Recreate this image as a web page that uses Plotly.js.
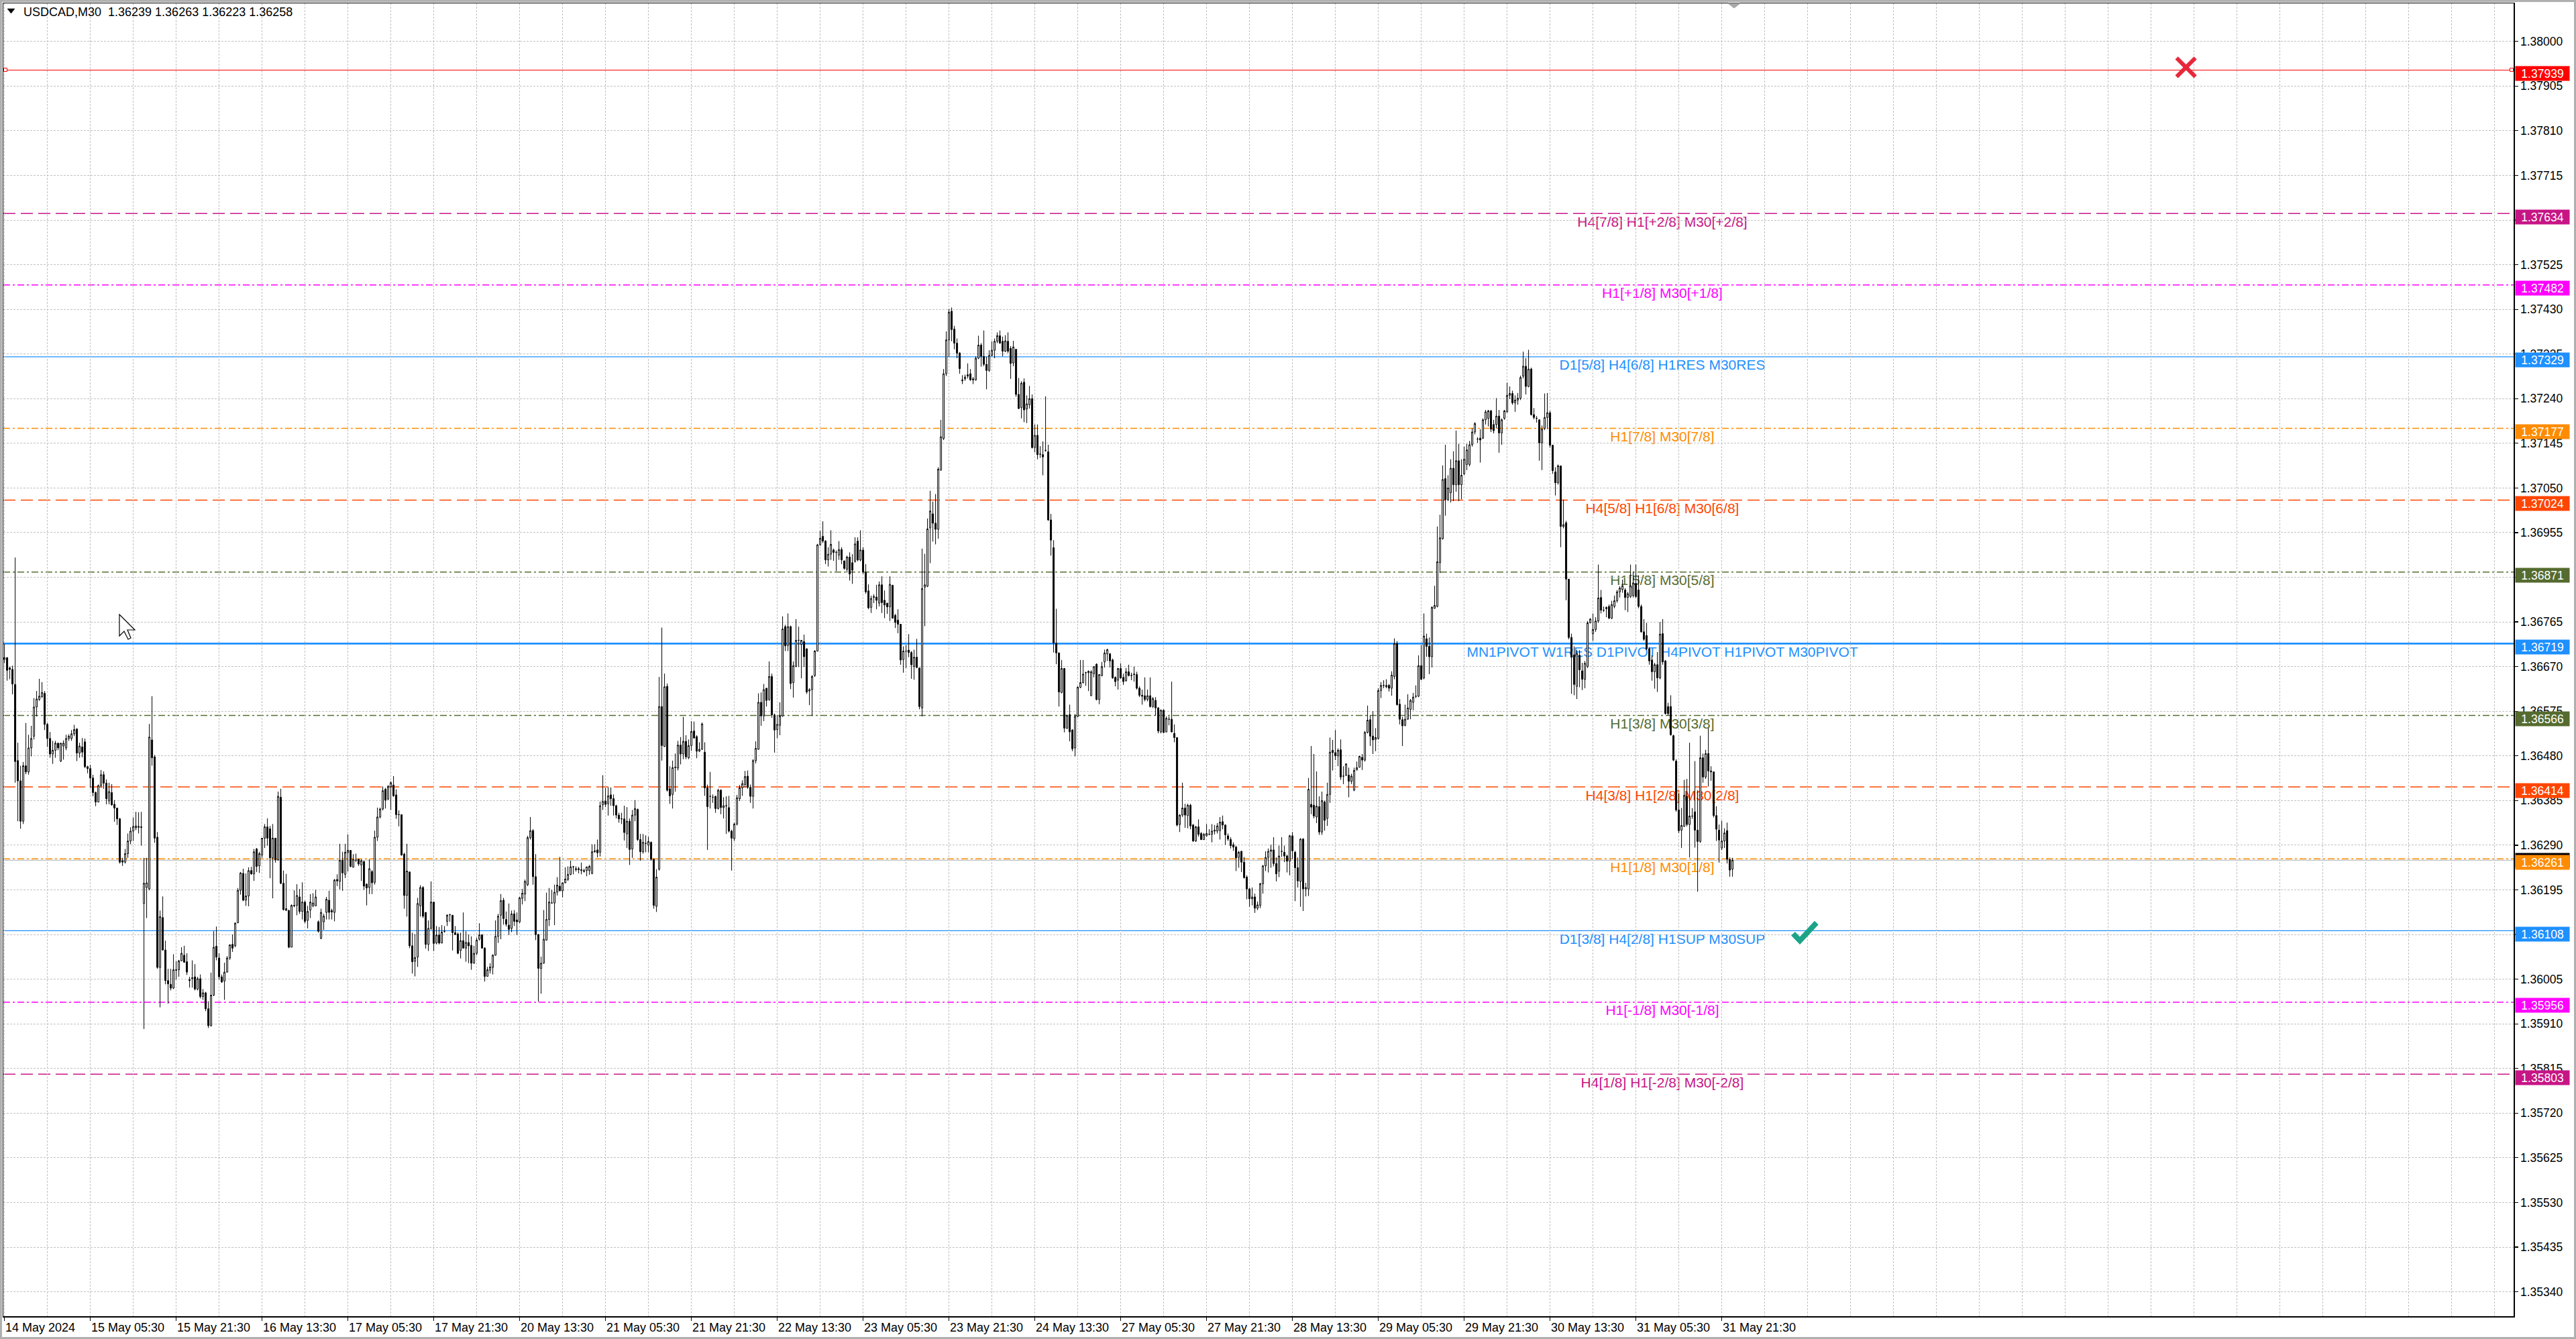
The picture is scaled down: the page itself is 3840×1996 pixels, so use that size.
<!DOCTYPE html>
<html>
<head>
<meta charset="utf-8">
<script src="https://cdn.plot.ly/plotly-3.0.1.min.js"></script>
<style>html,body{margin:0;padding:0;background:#fff;}#chart{width:3840px;height:1996px;}</style>
</head>
<body>
<div id="chart"></div>
<script>
// ---------------- DATA (USDCAD M30) ----------------
const openPrices = [
1.36685,1.36689,1.36667,1.36664,1.36632,1.36470,1.36427,1.36341,1.36459,1.36446,
1.36497,1.36522,1.36584,1.36600,1.36606,1.36613,1.36547,1.36517,1.36484,1.36492,
1.36507,1.36469,1.36501,1.36497,1.36517,1.36517,1.36527,1.36537,1.36486,1.36499,
1.36510,1.36457,1.36453,1.36433,1.36402,1.36382,1.36417,1.36440,1.36422,1.36384,
1.36402,1.36377,1.36369,1.36346,1.36257,1.36254,1.36272,1.36299,1.36320,1.36327,
1.36328,1.36329,1.36166,1.36200,1.36197,1.36514,1.36478,1.36307,1.36030,1.36136,
1.36067,1.36002,1.35994,1.35986,1.36025,1.36025,1.36044,1.36056,1.36042,1.36004,
1.36006,1.36010,1.35984,1.36006,1.35968,1.35976,1.35942,1.35906,1.35971,1.36075,
1.36050,1.36010,1.36001,1.36020,1.36050,1.36079,1.36076,1.36125,1.36194,1.36230,
1.36173,1.36182,1.36236,1.36229,1.36282,1.36246,1.36269,1.36305,1.36329,1.36325,
1.36263,1.36305,1.36259,1.36392,1.36209,1.36151,1.36151,1.36073,1.36162,1.36162,
1.36180,1.36149,1.36169,1.36130,1.36152,1.36161,1.36161,1.36127,1.36092,1.36127,
1.36147,1.36173,1.36151,1.36147,1.36217,1.36213,1.36258,1.36228,1.36274,1.36279,
1.36243,1.36258,1.36260,1.36248,1.36255,1.36207,1.36200,1.36234,1.36211,1.36307,
1.36350,1.36367,1.36409,1.36388,1.36414,1.36418,1.36397,1.36355,1.36355,1.36271,
1.36183,1.36233,1.36076,1.36043,1.36052,1.36161,1.36200,1.36147,1.36079,1.36113,
1.36169,1.36082,1.36099,1.36082,1.36107,1.36128,1.36142,1.36141,1.36104,1.36101,
1.36066,1.36087,1.36071,1.36083,1.36077,1.36039,1.36060,1.36090,1.36099,1.36071,
1.36011,1.36024,1.36030,1.36056,1.36096,1.36141,1.36173,1.36132,1.36120,1.36113,
1.36144,1.36131,1.36127,1.36177,1.36186,1.36206,1.36306,1.36321,1.36223,1.36100,
1.36028,1.36039,1.36088,1.36132,1.36167,1.36167,1.36190,1.36203,1.36193,1.36210,
1.36217,1.36228,1.36244,1.36238,1.36240,1.36236,1.36234,1.36236,1.36236,1.36230,
1.36276,1.36280,1.36275,1.36376,1.36384,1.36378,1.36397,1.36389,1.36374,1.36354,
1.36346,1.36346,1.36314,1.36341,1.36282,1.36354,1.36366,1.36302,1.36276,1.36294,
1.36290,1.36296,1.36260,1.36160,1.36239,1.36585,1.36500,1.36628,1.36410,1.36398,
1.36455,1.36454,1.36503,1.36484,1.36511,1.36476,1.36502,1.36533,1.36521,1.36490,
1.36494,1.36488,1.36412,1.36394,1.36392,1.36394,1.36368,1.36407,1.36370,1.36374,
1.36370,1.36320,1.36304,1.36335,1.36389,1.36412,1.36419,1.36437,1.36413,1.36394,
1.36470,1.36494,1.36594,1.36565,1.36624,1.36600,1.36649,1.36567,1.36536,1.36545,
1.36565,1.36755,1.36715,1.36755,1.36636,1.36670,1.36726,1.36717,1.36723,1.36708,
1.36618,1.36621,1.36651,1.36703,1.36929,1.36947,1.36937,1.36897,1.36909,1.36918,
1.36913,1.36907,1.36919,1.36895,1.36877,1.36903,1.36891,1.36894,1.36937,1.36897,
1.36918,1.36870,1.36831,1.36796,1.36817,1.36818,1.36805,1.36844,1.36811,1.36805,
1.36797,1.36843,1.36779,1.36769,1.36760,1.36685,1.36703,1.36705,1.36700,1.36670,
1.36690,1.36667,1.36582,1.36839,1.36841,1.36965,1.36995,1.36975,1.36962,1.37088,
1.37155,1.37293,1.37365,1.37426,1.37388,1.37358,1.37337,1.37278,1.37282,1.37288,
1.37293,1.37282,1.37280,1.37326,1.37354,1.37330,1.37313,1.37300,1.37332,1.37343,
1.37362,1.37374,1.37362,1.37341,1.37362,1.37347,1.37316,1.37345,1.37249,1.37221,
1.37275,1.37218,1.37227,1.37240,1.37136,1.37162,1.37122,1.37121,1.37130,1.37127,
1.36982,1.36923,1.36720,1.36699,1.36615,1.36666,1.36539,1.36568,1.36535,1.36497,
1.36564,1.36626,1.36636,1.36657,1.36657,1.36608,1.36655,1.36675,1.36600,1.36651,
1.36680,1.36697,1.36697,1.36684,1.36647,1.36641,1.36666,1.36647,1.36640,1.36659,
1.36651,1.36654,1.36653,1.36624,1.36609,1.36608,1.36600,1.36608,1.36585,1.36598,
1.36582,1.36531,1.36577,1.36531,1.36558,1.36558,1.36528,1.36519,1.36334,1.36354,
1.36369,1.36353,1.36375,1.36333,1.36299,1.36329,1.36315,1.36302,1.36310,1.36313,
1.36313,1.36320,1.36320,1.36321,1.36340,1.36333,1.36310,1.36302,1.36291,1.36286,
1.36264,1.36277,1.36254,1.36222,1.36197,1.36176,1.36180,1.36156,1.36162,1.36208,
1.36246,1.36264,1.36277,1.36280,1.36251,1.36235,1.36277,1.36275,1.36267,1.36256,
1.36310,1.36275,1.36242,1.36213,1.36303,1.36197,1.36197,1.36377,1.36375,1.36350,
1.36372,1.36318,1.36382,1.36347,1.36398,1.36492,1.36487,1.36480,1.36493,1.36437,
1.36439,1.36439,1.36426,1.36407,1.36450,1.36456,1.36477,1.36471,1.36530,1.36557,
1.36522,1.36515,1.36517,1.36619,1.36630,1.36627,1.36630,1.36624,1.36649,1.36719,
1.36590,1.36557,1.36545,1.36558,1.36579,1.36594,1.36607,1.36607,1.36672,1.36646,
1.36729,1.36713,1.36691,1.36794,1.36798,1.36891,1.36942,1.37070,1.37025,1.37040,
1.37092,1.37057,1.37108,1.37057,1.37080,1.37100,1.37100,1.37142,1.37169,1.37154,
1.37156,1.37156,1.37195,1.37198,1.37214,1.37185,1.37185,1.37203,1.37167,1.37198,
1.37212,1.37247,1.37251,1.37231,1.37237,1.37241,1.37288,1.37309,1.37266,1.37303,
1.37206,1.37198,1.37195,1.37146,1.37177,1.37200,1.37210,1.37141,1.37084,1.37061,
1.37097,1.36968,1.36976,1.36856,1.36732,1.36695,1.36628,1.36694,1.36661,1.36643,
1.36670,1.36763,1.36740,1.36749,1.36767,1.36817,1.36790,1.36793,1.36798,1.36773,
1.36798,1.36810,1.36829,1.36834,1.36833,1.36817,1.36819,1.36821,1.36847,1.36833,
1.36798,1.36744,1.36736,1.36708,1.36684,1.36659,1.36674,1.36646,1.36740,1.36682,
1.36585,1.36585,1.36523,1.36469,1.36365,1.36322,1.36330,1.36394,1.36334,1.36352,
1.36361,1.36322,1.36298,1.36476,1.36435,1.36485,1.36448,1.36446,1.36353,1.36322,
1.36284,1.36299,1.36321,1.36260,1.36239];

const highPrices = [
1.36718,1.36690,1.36670,1.36672,1.36902,1.36508,1.36459,1.36467,1.36550,1.36525,
1.36544,1.36603,1.36618,1.36644,1.36637,1.36618,1.36550,1.36531,1.36512,1.36512,
1.36508,1.36508,1.36513,1.36525,1.36526,1.36535,1.36546,1.36539,1.36508,1.36518,
1.36517,1.36459,1.36461,1.36440,1.36404,1.36419,1.36450,1.36447,1.36430,1.36423,
1.36420,1.36386,1.36369,1.36348,1.36263,1.36282,1.36315,1.36328,1.36349,1.36361,
1.36360,1.36361,1.36263,1.36263,1.36548,1.36607,1.36482,1.36318,1.36151,1.36181,
1.36087,1.36027,1.36027,1.36058,1.36043,1.36046,1.36073,1.36076,1.36060,1.36010,
1.36045,1.36037,1.36010,1.36015,1.35984,1.35978,1.35958,1.36019,1.36107,1.36117,
1.36060,1.36015,1.36040,1.36054,1.36079,1.36100,1.36126,1.36199,1.36233,1.36240,
1.36230,1.36243,1.36244,1.36282,1.36284,1.36276,1.36305,1.36335,1.36347,1.36331,
1.36335,1.36305,1.36404,1.36410,1.36236,1.36229,1.36153,1.36164,1.36194,1.36207,
1.36197,1.36211,1.36172,1.36161,1.36186,1.36188,1.36195,1.36130,1.36155,1.36144,
1.36180,1.36193,1.36155,1.36218,1.36228,1.36293,1.36276,1.36293,1.36313,1.36279,
1.36271,1.36272,1.36261,1.36260,1.36257,1.36209,1.36260,1.36237,1.36321,1.36370,
1.36370,1.36415,1.36412,1.36418,1.36426,1.36437,1.36409,1.36364,1.36355,1.36274,
1.36293,1.36234,1.36104,1.36101,1.36178,1.36205,1.36203,1.36147,1.36130,1.36213,
1.36169,1.36118,1.36116,1.36120,1.36118,1.36143,1.36144,1.36141,1.36118,1.36104,
1.36104,1.36147,1.36107,1.36100,1.36096,1.36076,1.36093,1.36124,1.36101,1.36073,
1.36031,1.36039,1.36058,1.36130,1.36144,1.36186,1.36178,1.36149,1.36166,1.36151,
1.36152,1.36147,1.36180,1.36197,1.36217,1.36310,1.36350,1.36324,1.36271,1.36101,
1.36053,1.36152,1.36189,1.36199,1.36195,1.36206,1.36222,1.36265,1.36211,1.36243,
1.36245,1.36257,1.36246,1.36245,1.36244,1.36253,1.36240,1.36244,1.36248,1.36292,
1.36292,1.36302,1.36383,1.36439,1.36412,1.36413,1.36413,1.36398,1.36376,1.36359,
1.36359,1.36374,1.36371,1.36347,1.36365,1.36386,1.36368,1.36314,1.36314,1.36311,
1.36308,1.36298,1.36262,1.36239,1.36648,1.36753,1.36655,1.36634,1.36458,1.36470,
1.36485,1.36512,1.36520,1.36563,1.36524,1.36515,1.36554,1.36553,1.36524,1.36509,
1.36551,1.36509,1.36419,1.36446,1.36398,1.36395,1.36410,1.36409,1.36392,1.36394,
1.36395,1.36323,1.36338,1.36397,1.36418,1.36428,1.36448,1.36449,1.36419,1.36473,
1.36511,1.36613,1.36615,1.36633,1.36624,1.36681,1.36655,1.36570,1.36567,1.36594,
1.36777,1.36759,1.36783,1.36757,1.36681,1.36771,1.36755,1.36726,1.36738,1.36708,
1.36624,1.36652,1.36705,1.36931,1.36959,1.36979,1.36939,1.36924,1.36960,1.36921,
1.36917,1.36937,1.36924,1.36895,1.36906,1.36913,1.36909,1.36945,1.36945,1.36960,
1.36924,1.36888,1.36845,1.36821,1.36824,1.36844,1.36851,1.36862,1.36832,1.36805,
1.36862,1.36844,1.36782,1.36792,1.36760,1.36713,1.36716,1.36739,1.36703,1.36706,
1.36729,1.36668,1.36921,1.36910,1.36985,1.37044,1.37021,1.37037,1.37094,1.37195,
1.37303,1.37383,1.37431,1.37434,1.37395,1.37368,1.37339,1.37290,1.37291,1.37315,
1.37303,1.37286,1.37330,1.37374,1.37358,1.37385,1.37329,1.37343,1.37362,1.37368,
1.37381,1.37385,1.37372,1.37375,1.37381,1.37352,1.37363,1.37345,1.37284,1.37277,
1.37283,1.37247,1.37267,1.37249,1.37185,1.37185,1.37139,1.37149,1.37245,1.37142,
1.36995,1.36939,1.36793,1.36700,1.36684,1.36667,1.36568,1.36589,1.36537,1.36569,
1.36628,1.36684,1.36684,1.36659,1.36662,1.36662,1.36670,1.36677,1.36654,1.36680,
1.36706,1.36708,1.36699,1.36687,1.36649,1.36667,1.36677,1.36655,1.36667,1.36674,
1.36657,1.36670,1.36659,1.36628,1.36621,1.36647,1.36621,1.36647,1.36605,1.36605,
1.36584,1.36579,1.36579,1.36564,1.36564,1.36638,1.36547,1.36519,1.36356,1.36423,
1.36378,1.36378,1.36378,1.36335,1.36331,1.36345,1.36318,1.36316,1.36335,1.36324,
1.36335,1.36333,1.36337,1.36350,1.36353,1.36334,1.36315,1.36307,1.36296,1.36289,
1.36278,1.36278,1.36265,1.36226,1.36199,1.36200,1.36187,1.36170,1.36210,1.36248,
1.36277,1.36283,1.36291,1.36307,1.36264,1.36289,1.36307,1.36289,1.36270,1.36312,
1.36318,1.36278,1.36264,1.36305,1.36305,1.36210,1.36433,1.36501,1.36484,1.36447,
1.36394,1.36404,1.36385,1.36423,1.36519,1.36514,1.36535,1.36496,1.36515,1.36458,
1.36464,1.36455,1.36442,1.36455,1.36468,1.36480,1.36484,1.36533,1.36587,1.36566,
1.36575,1.36539,1.36624,1.36637,1.36641,1.36643,1.36633,1.36660,1.36730,1.36724,
1.36601,1.36563,1.36589,1.36611,1.36601,1.36614,1.36630,1.36694,1.36716,1.36783,
1.36740,1.36732,1.36798,1.36842,1.36968,1.36993,1.37098,1.37142,1.37077,1.37111,
1.37128,1.37172,1.37144,1.37111,1.37138,1.37144,1.37150,1.37177,1.37190,1.37158,
1.37175,1.37198,1.37216,1.37216,1.37216,1.37195,1.37241,1.37216,1.37198,1.37216,
1.37274,1.37266,1.37257,1.37247,1.37252,1.37289,1.37340,1.37326,1.37344,1.37306,
1.37220,1.37203,1.37196,1.37183,1.37251,1.37252,1.37214,1.37142,1.37094,1.37100,
1.37097,1.37025,1.36980,1.36856,1.36740,1.36713,1.36705,1.36705,1.36678,1.36682,
1.36767,1.36773,1.36783,1.36775,1.36887,1.36833,1.36798,1.36798,1.36802,1.36810,
1.36821,1.36833,1.36841,1.36855,1.36837,1.36829,1.36887,1.36872,1.36887,1.36864,
1.36802,1.36771,1.36763,1.36711,1.36694,1.36678,1.36701,1.36765,1.36771,1.36684,
1.36593,1.36609,1.36525,1.36473,1.36400,1.36369,1.36429,1.36431,1.36508,1.36369,
1.36469,1.36407,1.36523,1.36485,1.36493,1.36539,1.36458,1.36446,1.36373,1.36334,
1.36342,1.36326,1.36338,1.36264,1.36263];

const lowPrices = [
1.36677,1.36640,1.36643,1.36611,1.36423,1.36341,1.36325,1.36335,1.36441,1.36440,
1.36479,1.36515,1.36564,1.36597,1.36603,1.36535,1.36499,1.36476,1.36463,1.36476,
1.36492,1.36467,1.36472,1.36492,1.36512,1.36512,1.36522,1.36469,1.36476,1.36477,
1.36454,1.36443,1.36412,1.36394,1.36373,1.36381,1.36413,1.36410,1.36377,1.36377,
1.36374,1.36340,1.36333,1.36251,1.36246,1.36251,1.36263,1.36292,1.36299,1.36322,
1.36315,1.36289,1.35899,1.36135,1.36194,1.36459,1.36295,1.36027,1.35945,1.36066,
1.35994,1.35953,1.35981,1.35984,1.36004,1.36010,1.36043,1.36040,1.36014,1.35987,
1.35987,1.35981,1.35981,1.35964,1.35961,1.35937,1.35901,1.35904,1.35969,1.36045,
1.36004,1.35997,1.35961,1.36019,1.36046,1.36063,1.36073,1.36124,1.36185,1.36171,
1.36161,1.36160,1.36227,1.36214,1.36233,1.36231,1.36263,1.36284,1.36289,1.36220,
1.36177,1.36253,1.36257,1.36207,1.36151,1.36150,1.36071,1.36073,1.36158,1.36141,
1.36144,1.36132,1.36124,1.36113,1.36135,1.36158,1.36160,1.36104,1.36090,1.36110,
1.36132,1.36132,1.36132,1.36128,1.36203,1.36196,1.36193,1.36220,1.36234,1.36243,
1.36243,1.36254,1.36246,1.36214,1.36195,1.36162,1.36186,1.36186,1.36206,1.36299,
1.36347,1.36364,1.36368,1.36386,1.36365,1.36393,1.36346,1.36330,1.36268,1.36155,
1.36138,1.36071,1.36017,1.36011,1.36031,1.36138,1.36135,1.36070,1.36065,1.36110,
1.36065,1.36079,1.36079,1.36081,1.36104,1.36118,1.36127,1.36066,1.36099,1.36058,
1.36049,1.36070,1.36042,1.36039,1.36025,1.36038,1.36056,1.36087,1.36070,1.36000,
1.36011,1.36017,1.36015,1.36055,1.36082,1.36090,1.36121,1.36117,1.36099,1.36105,
1.36118,1.36099,1.36124,1.36164,1.36171,1.36203,1.36302,1.36206,1.36088,1.35957,
1.35974,1.36038,1.36087,1.36118,1.36166,1.36120,1.36183,1.36192,1.36179,1.36209,
1.36214,1.36226,1.36228,1.36234,1.36230,1.36228,1.36232,1.36224,1.36227,1.36228,
1.36274,1.36264,1.36266,1.36365,1.36371,1.36353,1.36374,1.36353,1.36347,1.36338,
1.36335,1.36300,1.36284,1.36248,1.36263,1.36341,1.36299,1.36257,1.36272,1.36275,
1.36275,1.36257,1.36155,1.36148,1.36236,1.36470,1.36499,1.36404,1.36378,1.36368,
1.36404,1.36449,1.36462,1.36473,1.36473,1.36473,1.36491,1.36517,1.36475,1.36488,
1.36493,1.36395,1.36280,1.36368,1.36380,1.36359,1.36366,1.36356,1.36347,1.36314,
1.36317,1.36236,1.36299,1.36332,1.36384,1.36395,1.36413,1.36410,1.36380,1.36368,
1.36464,1.36493,1.36544,1.36554,1.36585,1.36597,1.36561,1.36487,1.36518,1.36524,
1.36563,1.36703,1.36703,1.36622,1.36604,1.36669,1.36669,1.36645,1.36669,1.36612,
1.36588,1.36565,1.36648,1.36702,1.36927,1.36933,1.36888,1.36883,1.36897,1.36895,
1.36873,1.36897,1.36888,1.36876,1.36870,1.36853,1.36846,1.36891,1.36894,1.36894,
1.36867,1.36825,1.36792,1.36784,1.36805,1.36792,1.36798,1.36784,1.36773,1.36782,
1.36767,1.36772,1.36752,1.36741,1.36674,1.36657,1.36667,1.36690,1.36644,1.36642,
1.36667,1.36579,1.36564,1.36756,1.36839,1.36890,1.36936,1.36930,1.36942,1.37087,
1.37152,1.37288,1.37329,1.37362,1.37345,1.37326,1.37293,1.37271,1.37278,1.37283,
1.37278,1.37271,1.37278,1.37324,1.37308,1.37309,1.37260,1.37297,1.37330,1.37326,
1.37358,1.37357,1.37330,1.37339,1.37337,1.37282,1.37309,1.37244,1.37218,1.37198,
1.37190,1.37188,1.37219,1.37134,1.37126,1.37111,1.37114,1.37077,1.37127,1.36980,
1.36906,1.36700,1.36675,1.36585,1.36613,1.36530,1.36537,1.36511,1.36490,1.36479,
1.36562,1.36624,1.36634,1.36629,1.36618,1.36608,1.36647,1.36598,1.36590,1.36649,
1.36668,1.36682,1.36668,1.36644,1.36628,1.36621,1.36644,1.36631,1.36638,1.36649,
1.36641,1.36638,1.36621,1.36605,1.36589,1.36596,1.36596,1.36583,1.36582,1.36566,
1.36528,1.36528,1.36528,1.36530,1.36545,1.36530,1.36509,1.36330,1.36318,1.36350,
1.36327,1.36326,1.36324,1.36297,1.36297,1.36308,1.36301,1.36301,1.36308,1.36312,
1.36296,1.36313,1.36315,1.36302,1.36324,1.36291,1.36299,1.36283,1.36278,1.36235,
1.36242,1.36233,1.36219,1.36175,1.36159,1.36162,1.36146,1.36152,1.36156,1.36187,
1.36235,1.36232,1.36242,1.36245,1.36213,1.36222,1.36265,1.36254,1.36232,1.36226,
1.36261,1.36171,1.36200,1.36159,1.36150,1.36181,1.36182,1.36356,1.36347,1.36337,
1.36312,1.36312,1.36321,1.36331,1.36380,1.36449,1.36471,1.36458,1.36429,1.36420,
1.36437,1.36392,1.36420,1.36405,1.36449,1.36455,1.36450,1.36468,1.36528,1.36501,
1.36484,1.36490,1.36515,1.36603,1.36624,1.36624,1.36617,1.36608,1.36643,1.36587,
1.36547,1.36501,1.36543,1.36557,1.36558,1.36577,1.36603,1.36605,1.36641,1.36643,
1.36691,1.36654,1.36668,1.36793,1.36796,1.36869,1.36940,1.36991,1.37022,1.37019,
1.37022,1.37042,1.37022,1.37026,1.37077,1.37088,1.37096,1.37138,1.37164,1.37146,
1.37104,1.37154,1.37185,1.37181,1.37169,1.37166,1.37177,1.37125,1.37142,1.37195,
1.37210,1.37239,1.37227,1.37212,1.37227,1.37237,1.37283,1.37249,1.37264,1.37204,
1.37196,1.37189,1.37108,1.37088,1.37173,1.37175,1.37136,1.37080,1.37034,1.37057,
1.36924,1.36964,1.36811,1.36728,1.36612,1.36609,1.36601,1.36626,1.36620,1.36624,
1.36667,1.36762,1.36725,1.36744,1.36763,1.36783,1.36786,1.36775,1.36771,1.36771,
1.36794,1.36806,1.36817,1.36827,1.36790,1.36786,1.36816,1.36817,1.36816,1.36794,
1.36742,1.36725,1.36705,1.36674,1.36640,1.36623,1.36616,1.36643,1.36674,1.36568,
1.36566,1.36523,1.36469,1.36361,1.36316,1.36284,1.36329,1.36330,1.36264,1.36346,
1.36285,1.36191,1.36295,1.36423,1.36431,1.36415,1.36427,1.36349,1.36299,1.36253,
1.36280,1.36284,1.36251,1.36223,1.36223];

const closePrices = [
1.36689,1.36662,1.36664,1.36633,1.36468,1.36427,1.36341,1.36459,1.36446,1.36497,
1.36517,1.36584,1.36601,1.36607,1.36615,1.36547,1.36517,1.36484,1.36492,1.36507,
1.36497,1.36507,1.36507,1.36517,1.36522,1.36527,1.36536,1.36486,1.36501,1.36488,
1.36457,1.36453,1.36433,1.36402,1.36382,1.36417,1.36440,1.36422,1.36389,1.36404,
1.36376,1.36369,1.36346,1.36254,1.36254,1.36272,1.36299,1.36320,1.36330,1.36331,
1.36330,1.36328,1.36209,1.36210,1.36520,1.36476,1.36305,1.36030,1.36138,1.36067,
1.36002,1.35995,1.35986,1.36025,1.36024,1.36044,1.36060,1.36041,1.36020,1.36002,
1.36008,1.35984,1.36006,1.35968,1.35976,1.35942,1.35906,1.35971,1.36073,1.36052,
1.36010,1.35999,1.36020,1.36050,1.36078,1.36071,1.36124,1.36194,1.36231,1.36173,
1.36182,1.36236,1.36229,1.36276,1.36245,1.36272,1.36305,1.36329,1.36305,1.36263,
1.36305,1.36259,1.36394,1.36209,1.36153,1.36155,1.36073,1.36162,1.36161,1.36183,
1.36149,1.36169,1.36128,1.36149,1.36169,1.36167,1.36180,1.36107,1.36147,1.36139,
1.36175,1.36147,1.36148,1.36216,1.36214,1.36258,1.36231,1.36275,1.36279,1.36245,
1.36260,1.36258,1.36250,1.36257,1.36203,1.36199,1.36240,1.36210,1.36307,1.36350,
1.36367,1.36406,1.36386,1.36415,1.36423,1.36395,1.36355,1.36355,1.36269,1.36183,
1.36235,1.36076,1.36042,1.36051,1.36166,1.36200,1.36139,1.36079,1.36113,1.36169,
1.36081,1.36099,1.36082,1.36105,1.36107,1.36141,1.36142,1.36104,1.36100,1.36060,
1.36087,1.36071,1.36083,1.36076,1.36039,1.36060,1.36088,1.36099,1.36071,1.36011,
1.36025,1.36031,1.36056,1.36096,1.36139,1.36172,1.36134,1.36122,1.36111,1.36144,
1.36128,1.36127,1.36178,1.36188,1.36213,1.36306,1.36321,1.36223,1.36100,1.36028,
1.36039,1.36090,1.36132,1.36169,1.36167,1.36190,1.36205,1.36193,1.36210,1.36218,
1.36228,1.36244,1.36244,1.36240,1.36238,1.36238,1.36236,1.36244,1.36245,1.36276,
1.36278,1.36274,1.36374,1.36383,1.36377,1.36395,1.36389,1.36374,1.36354,1.36346,
1.36346,1.36317,1.36341,1.36281,1.36354,1.36368,1.36302,1.36276,1.36296,1.36294,
1.36298,1.36260,1.36162,1.36222,1.36585,1.36502,1.36627,1.36407,1.36395,1.36455,
1.36456,1.36503,1.36484,1.36511,1.36478,1.36502,1.36532,1.36518,1.36490,1.36494,
1.36548,1.36412,1.36372,1.36394,1.36392,1.36368,1.36407,1.36370,1.36374,1.36374,
1.36320,1.36305,1.36335,1.36391,1.36412,1.36421,1.36436,1.36413,1.36394,1.36470,
1.36496,1.36594,1.36565,1.36621,1.36598,1.36649,1.36567,1.36535,1.36547,1.36565,
1.36750,1.36714,1.36755,1.36634,1.36672,1.36726,1.36726,1.36726,1.36691,1.36616,
1.36621,1.36649,1.36703,1.36929,1.36943,1.36937,1.36897,1.36909,1.36930,1.36913,
1.36913,1.36919,1.36897,1.36879,1.36903,1.36867,1.36875,1.36931,1.36897,1.36918,
1.36871,1.36829,1.36795,1.36815,1.36819,1.36811,1.36844,1.36806,1.36801,1.36797,
1.36845,1.36773,1.36764,1.36760,1.36684,1.36703,1.36703,1.36700,1.36674,1.36690,
1.36668,1.36585,1.36836,1.36844,1.36963,1.37001,1.36975,1.36962,1.37090,1.37159,
1.37293,1.37365,1.37424,1.37387,1.37358,1.37337,1.37304,1.37280,1.37286,1.37291,
1.37280,1.37280,1.37326,1.37354,1.37330,1.37313,1.37300,1.37332,1.37343,1.37362,
1.37374,1.37358,1.37341,1.37363,1.37341,1.37315,1.37350,1.37249,1.37219,1.37273,
1.37216,1.37229,1.37240,1.37136,1.37162,1.37121,1.37122,1.37116,1.37130,1.36982,
1.36939,1.36720,1.36699,1.36616,1.36666,1.36539,1.36566,1.36531,1.36495,1.36564,
1.36626,1.36636,1.36654,1.36657,1.36660,1.36659,1.36670,1.36600,1.36653,1.36670,
1.36699,1.36706,1.36682,1.36646,1.36638,1.36666,1.36646,1.36638,1.36659,1.36651,
1.36651,1.36653,1.36624,1.36609,1.36607,1.36600,1.36608,1.36585,1.36602,1.36582,
1.36533,1.36577,1.36530,1.36560,1.36558,1.36531,1.36519,1.36333,1.36354,1.36369,
1.36354,1.36375,1.36331,1.36299,1.36329,1.36313,1.36302,1.36313,1.36315,1.36313,
1.36320,1.36322,1.36331,1.36339,1.36333,1.36312,1.36303,1.36289,1.36286,1.36263,
1.36275,1.36254,1.36221,1.36197,1.36176,1.36180,1.36156,1.36163,1.36208,1.36246,
1.36264,1.36277,1.36280,1.36251,1.36229,1.36267,1.36277,1.36267,1.36256,1.36310,
1.36278,1.36242,1.36214,1.36303,1.36197,1.36200,1.36409,1.36371,1.36352,1.36373,
1.36318,1.36385,1.36343,1.36398,1.36488,1.36487,1.36480,1.36492,1.36435,1.36437,
1.36463,1.36426,1.36437,1.36449,1.36455,1.36479,1.36471,1.36530,1.36556,1.36522,
1.36514,1.36519,1.36619,1.36630,1.36630,1.36630,1.36624,1.36652,1.36719,1.36589,
1.36558,1.36544,1.36558,1.36582,1.36598,1.36605,1.36607,1.36672,1.36643,1.36735,
1.36713,1.36691,1.36796,1.36800,1.36893,1.36944,1.37068,1.37025,1.37050,1.37092,
1.37057,1.37108,1.37057,1.37077,1.37111,1.37131,1.37142,1.37169,1.37187,1.37154,
1.37152,1.37195,1.37212,1.37214,1.37175,1.37172,1.37203,1.37167,1.37195,1.37214,
1.37247,1.37251,1.37231,1.37237,1.37241,1.37285,1.37309,1.37266,1.37303,1.37206,
1.37200,1.37198,1.37146,1.37175,1.37200,1.37210,1.37141,1.37087,1.37061,1.37097,
1.36968,1.36972,1.36856,1.36732,1.36690,1.36632,1.36698,1.36663,1.36643,1.36677,
1.36763,1.36771,1.36749,1.36767,1.36816,1.36790,1.36790,1.36796,1.36773,1.36802,
1.36810,1.36829,1.36837,1.36842,1.36817,1.36825,1.36842,1.36848,1.36819,1.36798,
1.36744,1.36728,1.36708,1.36682,1.36659,1.36674,1.36646,1.36739,1.36680,1.36570,
1.36570,1.36525,1.36471,1.36365,1.36321,1.36332,1.36396,1.36334,1.36352,1.36352,
1.36322,1.36298,1.36476,1.36435,1.36485,1.36448,1.36446,1.36353,1.36324,1.36301,
1.36299,1.36316,1.36260,1.36237,1.36258];

// Time axis labels (one every 32 M30 bars, first bar = 14 May 13:30)
const timeLabels = ["14 May 2024","15 May 05:30","15 May 21:30","16 May 13:30","17 May 05:30",
  "17 May 21:30","20 May 13:30","21 May 05:30","21 May 21:30","22 May 13:30","23 May 05:30",
  "23 May 21:30","24 May 13:30","27 May 05:30","27 May 21:30","28 May 13:30","29 May 05:30",
  "29 May 21:30","30 May 13:30","31 May 05:30","31 May 21:30"];

// Price axis tick labels
const priceTicks = [1.35340,1.35435,1.35530,1.35625,1.35720,1.35815,1.35910,1.36005,1.36100,
  1.36195,1.36290,1.36385,1.36480,1.36575,1.36670,1.36765,1.36860,1.36955,1.37050,1.37145,
  1.37240,1.37335,1.37430,1.37525,1.37620,1.37715,1.37810,1.37905,1.38000];

// Horizontal levels (price, label)
const levelPrices = [1.37939,1.37634,1.37482,1.37329,1.37177,1.37024,1.36871,1.36719,1.36566,1.36414,1.36261,1.36108,1.35956,1.35803];
const levelTexts = ["","H4[7/8] H1[+2/8] M30[+2/8]","H1[+1/8] M30[+1/8]","D1[5/8] H4[6/8] H1RES M30RES",
  "H1[7/8] M30[7/8]","H4[5/8] H1[6/8] M30[6/8]","H1[5/8] M30[5/8]",
  "MN1PIVOT W1RES D1PIVOT H4PIVOT H1PIVOT M30PIVOT","H1[3/8] M30[3/8]","H4[3/8] H1[2/8] M30[2/8]",
  "H1[1/8] M30[1/8]","D1[3/8] H4[2/8] H1SUP M30SUP","H1[-1/8] M30[-1/8]","H4[1/8] H1[-2/8] M30[-2/8]"];
const bidPrice = 1.36258;
const headerText = "USDCAD,M30\u00a0\u00a01.36239 1.36263 1.36223 1.36258";
const crossMark = {bar: 813, price: 1.37945};
const checkMark = {bar: 671, price: 1.36106};

// ---------------- STYLE ----------------
const levelColors = ["#FF0000","#C71585","#FF00FF","#1E90FF","#FF8C00","#FF4500","#556B2F",
  "#1E90FF","#556B2F","#FF4500","#FF8C00","#1E90FF","#FF00FF","#C71585"];
const DASH = "18px,8px", DASHDOT = "10px,4px,3px,4px";
const levelDash = ["solid",DASH,DASHDOT,"solid",DASHDOT,DASH,DASHDOT,"solid",DASHDOT,DASH,DASHDOT,"solid",DASHDOT,DASH];
const levelWidth = [1.2,1.5,1.5,1.3,1.5,1.5,1.5,2.8,1.5,1.5,1.5,1.3,1.5,1.5];

const FONT = "Liberation Sans, Arial, sans-serif";
const PL = 5, PR = 3747, PT = 5, PB = 1962, WIDTH = 3840, HEIGHT = 1996;
const PW = PR - PL, PH = PB - PT;
const BAR_PX = 4;
const X0 = -0.4;
const Y_RANGE = [1.35288, 1.38081];
const PRICE_PER_PX = (Y_RANGE[1] - Y_RANGE[0]) / PH;
const px2x = px => (px - PL) / PW;          // pixel -> paper x
const px2y = py => 1 - (py - PT) / PH;      // pixel -> paper y

const n = Math.min(openPrices.length, highPrices.length, lowPrices.length, closePrices.length);
const idx = Array.from({length:n}, (_,i)=>i);

const majorVals = timeLabels.map((_,i)=>i*32);
const minorVals = [];
for (let v = 0; v <= X0 + PW / BAR_PX; v += 16) minorVals.push(v);

const gridStyle = {showgrid:true, gridcolor:"#c0c0c0", gridwidth:1, griddash:"3px,2px"};

const shapes = [];
// level lines
levelPrices.forEach((p,i)=>{
  shapes.push({type:"line", xref:"paper", yref:"y", x0:0, x1:1, y0:p, y1:p, layer:"between",
    line:{color:levelColors[i], width:levelWidth[i], dash:levelDash[i]}});
});
// bid line
shapes.push({type:"line", xref:"paper", yref:"y", x0:0, x1:1, y0:bidPrice, y1:bidPrice, layer:"between",
  line:{color:"#c0c0c0", width:1.3}});
// level texts (drawn under the candles), lifted 2.5 px
const labelCenter = px2x(2478);
levelPrices.forEach((p,i)=>{
  if (!levelTexts[i]) return;
  const yy = p + 2.5 * PRICE_PER_PX;
  shapes.push({type:"line", xref:"paper", yref:"y", x0:labelCenter-0.004, x1:labelCenter+0.004, y0:yy, y1:yy,
    layer:"between", line:{width:0, color:"rgba(0,0,0,0)"},
    label:{text:levelTexts[i], textposition:"middle", yanchor:"top", padding:1,
      font:{family:FONT, size:21, color:levelColors[i]}}});
});
// small squares at both ends of the red line
[[PL+0.5, PL+5.5],[PR-5.5, PR-0.5]].forEach(([a,b])=>{
  shapes.push({type:"rect", xref:"paper", yref:"paper", x0:px2x(a), x1:px2x(b),
    y0:px2y(106.5), y1:px2y(101.5), line:{color:"#FF0000", width:1}, fillcolor:"#fff", layer:"above"});
});
// red cross
shapes.push({type:"line", xref:"x", yref:"y", x0:crossMark.bar-3.5, x1:crossMark.bar+3.5,
  y0:crossMark.price+0.0002, y1:crossMark.price-0.0002, line:{color:"#E8283A", width:6}, layer:"above"});
shapes.push({type:"line", xref:"x", yref:"y", x0:crossMark.bar-3.5, x1:crossMark.bar+3.5,
  y0:crossMark.price-0.0002, y1:crossMark.price+0.0002, line:{color:"#E8283A", width:6}, layer:"above"});
// green check
shapes.push({type:"path", xref:"x", yref:"y", layer:"above",
  path:`M ${checkMark.bar-4.4},${(checkMark.price-0.00004).toFixed(6)} L ${checkMark.bar-1.9},${(checkMark.price-0.00019).toFixed(6)} L ${checkMark.bar+4.3},${(checkMark.price+0.00019).toFixed(6)}`,
  line:{color:"#1BA487", width:8}});
// mouse cursor
const cur = [[0,0],[0,32],[7,25],[13,37],[17,35],[12,23],[23,23]].map(([dx,dy])=>[178+dx,916+dy]);
shapes.push({type:"path", xref:"paper", yref:"paper", layer:"above",
  path:"M " + cur.map(([a,b])=>px2x(a).toFixed(6)+","+px2y(b).toFixed(6)).join(" L ") + " Z",
  fillcolor:"#fff", line:{color:"#000", width:1.2}});
// chart-shift marker at the top
shapes.push({type:"path", xref:"paper", yref:"paper", layer:"above",
  path:`M ${px2x(2576)},${px2y(5)} L ${px2x(2594)},${px2y(5)} L ${px2x(2585)},${px2y(12)} Z`,
  fillcolor:"#a8a8a8", line:{color:"#a8a8a8", width:1}});
// header triangle
shapes.push({type:"path", xref:"paper", yref:"paper", layer:"above",
  path:`M ${px2x(11)},${px2y(13)} L ${px2x(22)},${px2y(13)} L ${px2x(16.5)},${px2y(20)} Z`,
  fillcolor:"#000", line:{color:"#000", width:0.5}});
// window frame
shapes.push({type:"rect", xref:"paper", yref:"paper", layer:"above",
  x0:px2x(1.5), x1:px2x(WIDTH-1.5), y0:px2y(1.5), y1:px2y(HEIGHT-1.5),
  line:{color:"#b0b0b0", width:3}, fillcolor:"rgba(0,0,0,0)"});

const annotations = [];
annotations.push({xref:"paper", yref:"paper", x:px2x(33), y:px2y(18.5), xanchor:"left", yanchor:"middle",
  text:headerText, showarrow:false, font:{family:FONT, size:18, color:"#000"}});
// bid box (partly covered)
annotations.push({xref:"paper", yref:"y", x:1, xanchor:"left", xshift:2, y:bidPrice, yanchor:"middle",
  text:bidPrice.toFixed(5), showarrow:false, bgcolor:"#000", width:80, height:21, borderpad:0,
  font:{family:FONT, size:17.5, color:"#fff"}});
levelPrices.forEach((p,i)=>{
  annotations.push({xref:"paper", yref:"y", x:1, xanchor:"left", xshift:2, y:p, yanchor:"middle", yshift:-5,
    text:p.toFixed(5), showarrow:false, bgcolor:levelColors[i], width:80, height:21, borderpad:0,
    font:{family:FONT, size:17.5, color:"#fff"}});
});

const traces = [{
  type:"candlestick", x:idx, open:openPrices.slice(0,n), high:highPrices.slice(0,n),
  low:lowPrices.slice(0,n), close:closePrices.slice(0,n),
  increasing:{line:{color:"#000", width:1}, fillcolor:"#ffffff"},
  decreasing:{line:{color:"#000", width:1}, fillcolor:"#000000"},
  whiskerwidth:0, hoverinfo:"skip", showlegend:false
}];

const layout = {
  width:WIDTH, height:HEIGHT,
  margin:{l:PL, r:WIDTH-PR, t:PT, b:HEIGHT-PB, pad:0},
  paper_bgcolor:"#fff", plot_bgcolor:"#fff", showlegend:false, hovermode:false,
  font:{family:FONT, size:17.5, color:"#000"},
  xaxis:Object.assign({
    type:"linear", range:[X0, X0 + PW/BAR_PX], fixedrange:true,
    tickmode:"array", tickvals:majorVals, ticktext:timeLabels,
    ticklabelposition:"outside right", ticks:"outside", ticklen:5, tickwidth:1.2, tickcolor:"#000",
    tickfont:{family:FONT, size:18, color:"#000"},
    minor:Object.assign({tickvals:minorVals, ticks:""}, gridStyle),
    showline:true, mirror:true, linecolor:"#000", linewidth:1.5, zeroline:false,
    rangeslider:{visible:false}
  }, gridStyle),
  yaxis:Object.assign({
    side:"right", range:Y_RANGE, fixedrange:true,
    tickmode:"array", tickvals:priceTicks, ticktext:priceTicks.map(v=>v.toFixed(5)),
    ticks:"outside", ticklen:5, tickwidth:1.2, tickcolor:"#000",
    tickfont:{family:FONT, size:17.5, color:"#000"},
    showline:true, mirror:true, linecolor:"#000", linewidth:1.5, zeroline:false
  }, gridStyle),
  shapes:shapes, annotations:annotations
};

Plotly.newPlot("chart", traces, layout, {staticPlot:true, displayModeBar:false, responsive:false});
</script>
</body>
</html>
